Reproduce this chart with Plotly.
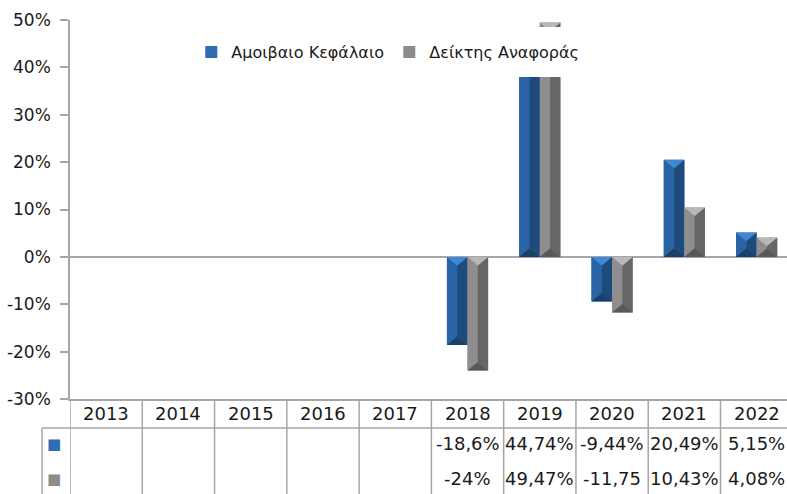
import plotly.graph_objects as go

years = ["2013", "2014", "2015", "2016", "2017", "2018", "2019", "2020", "2021", "2022"]
fund = [None, None, None, None, None, -18.6, 44.74, -9.44, 20.49, 5.15]
bench = [None, None, None, None, None, -24.0, 49.47, -11.75, 10.43, 4.08]
fund_labels = ["", "", "", "", "", "-18,6%", "44,74%", "-9,44%", "20,49%", "5,15%"]
bench_labels = ["", "", "", "", "", "-24%", "49,47%", "-11,75", "10,43%", "4,08%"]
series_names = ["Αμοιβαιο Κεφάλαιο", "Δείκτης Αναφοράς"]
y_ticks = [-30, -20, -10, 0, 10, 20, 30, 40, 50]

BAR_W = 0.285
BEVEL = 1.8
FONT = "DejaVu Sans"
GRID = "#a6a6a6"

# facet colours: base, top(light), left, right, bottom
styles = [
    dict(base="#2e6db4", top="#3f88d4", left="#2a64a4", right="#1f4b7c", bottom="#1a3f69"),
    dict(base="#8c8c8c", top="#b8b8b8", left="#8e8e8e", right="#666666", bottom="#585858"),
]

fig = go.Figure()
xs = list(range(len(years)))

for si, (vals, name) in enumerate(zip([fund, bench], series_names)):
    st = styles[si]
    off = -BAR_W if si == 0 else 0.0
    fig.add_trace(go.Bar(
        x=xs, y=vals, name=name, width=BAR_W, offset=off,
        marker=dict(color=st["base"], line=dict(width=0)),
        hoverinfo="skip",
    ))
    facets = {"left": ([], []), "right": ([], []), "top": ([], []), "bottom": ([], [])}
    for i, v in zip(xs, vals):
        if v is None:
            continue
        x0 = i + off
        x1 = x0 + BAR_W
        xc = (x0 + x1) / 2
        T = max(0, v)
        B = min(0, v)
        h = min(BEVEL, abs(v) / 2)
        polys = {
            "left": [(x0, T), (xc, T - h), (xc, B + h), (x0, B)],
            "right": [(x1, T), (xc, T - h), (xc, B + h), (x1, B)],
            "top": [(x0, T), (x1, T), (xc, T - h)],
            "bottom": [(x0, B), (x1, B), (xc, B + h)],
        }
        for k, pts in polys.items():
            fx, fy = facets[k]
            fx.extend([p[0] for p in pts] + [pts[0][0], None])
            fy.extend([p[1] for p in pts] + [pts[0][1], None])
    for k in ["left", "right", "top", "bottom"]:
        fx, fy = facets[k]
        fig.add_trace(go.Scatter(
            x=fx, y=fy, mode="lines", fill="toself", fillcolor=st[k],
            line=dict(width=0), showlegend=False, hoverinfo="skip",
        ))

# table text
PAD_Y = {"head": -0.037, "r1": -0.118, "r2": -0.21}
ann = []
for i, yr in enumerate(years):
    ann.append(dict(x=i, y=PAD_Y["head"], xref="x", yref="paper", text=yr, showarrow=False,
                    font=dict(family=FONT, size=18, color="#1a1a1a"), xanchor="center", yanchor="middle"))
    if fund_labels[i]:
        ann.append(dict(x=i, y=PAD_Y["r1"], xref="x", yref="paper", text=fund_labels[i], showarrow=False,
                        font=dict(family=FONT, size=18, color="#1a1a1a"), xanchor="center", yanchor="middle"))
    if bench_labels[i]:
        ann.append(dict(x=i, y=PAD_Y["r2"], xref="x", yref="paper", text=bench_labels[i], showarrow=False,
                        font=dict(family=FONT, size=18, color="#1a1a1a"), xanchor="center", yanchor="middle"))
for si, key in enumerate(["r1", "r2"]):
    ann.append(dict(x=-0.022, y=PAD_Y[key], xref="paper", yref="paper", text="■", showarrow=False,
                    font=dict(family=FONT, size=15, color=styles[si]["base"]), xanchor="center", yanchor="middle"))

shapes = []
n = len(years)
X_MAX = n - 0.58
for i in range(n + 1):
    shapes.append(dict(type="line", xref="x", yref="paper", x0=i - 0.5, x1=i - 0.5, y0=0, y1=-0.27,
                       line=dict(color=GRID, width=1.5)))
shapes.append(dict(type="line", xref="paper", yref="paper", x0=-0.039, x1=1, y0=-0.0765, y1=-0.0765,
                   line=dict(color=GRID, width=1.5)))
shapes.append(dict(type="line", xref="paper", yref="paper", x0=-0.039, x1=-0.039, y0=-0.0765, y1=-0.27,
                   line=dict(color=GRID, width=1.5)))

fig.update_layout(
    width=787, height=494,
    margin=dict(l=70, r=0, t=20, b=95, autoexpand=False),
    paper_bgcolor="white", plot_bgcolor="white",
    barmode="overlay",
    showlegend=True,
    legend=dict(
        orientation="h", x=0.158, y=0.981, xanchor="left", yanchor="top",
        bgcolor="white", bordercolor="white", borderwidth=8,
        font=dict(family=FONT, size=16, color="#1a1a1a"),
        entrywidth=153, entrywidthmode="pixels",
    ),
    xaxis=dict(range=[-0.5, X_MAX], showticklabels=False, ticks="", showgrid=False,
               zeroline=False, showline=True, linecolor=GRID, linewidth=1.5, fixedrange=True),
    yaxis=dict(range=[-30, 50], tickvals=y_ticks, ticktext=[f"{t}%" for t in y_ticks],
               ticks="outside", ticklen=8, tickcolor=GRID, tickwidth=1.5,
               ticklabelstandoff=6,
               showgrid=False, showline=True, linecolor=GRID, linewidth=1.5,
               zeroline=True, zerolinecolor=GRID, zerolinewidth=1.5,
               tickfont=dict(family=FONT, size=17, color="#1a1a1a")),
    annotations=ann,
    shapes=shapes,
)

fig.write_html("out.html", config={"displayModeBar": False},
               post_script="document.body.style.margin='0';document.body.style.overflow='hidden';")
